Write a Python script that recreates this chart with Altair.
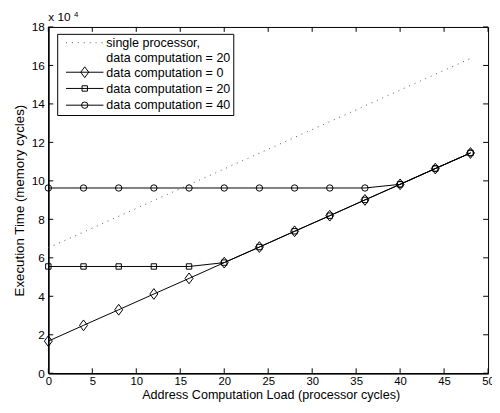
import altair as alt
import pandas as pd

# ---- data (execution time in units of 10^4 memory cycles) ----
x_vals = [0, 4, 8, 12, 16, 20, 24, 28, 32, 36, 40, 44, 48]
dc0 = [1.67, 2.49, 3.30, 4.12, 4.93, 5.75, 6.56, 7.38, 8.19, 9.01, 9.82, 10.64, 11.45]
dc20 = [5.55, 5.55, 5.55, 5.55, 5.55, 5.75, 6.56, 7.38, 8.19, 9.01, 9.82, 10.64, 11.45]
dc40 = [9.63, 9.63, 9.63, 9.63, 9.63, 9.63, 9.63, 9.63, 9.63, 9.63, 9.82, 10.64, 11.45]
single_x = [0, 48]
single_y = [6.52, 16.36]

x_ticks = [0, 5, 10, 15, 20, 25, 30, 35, 40, 45, 50]
y_ticks = [0, 2, 4, 6, 8, 10, 12, 14, 16, 18]

legend_labels = ["single processor,", "data computation = 20", "data computation = 0",
                 "data computation = 20", "data computation = 40"]

W, H = 447, 352
FONT = "Liberation Sans"
FS = 12
LFS = 12.7

xs = alt.Scale(domain=[0, 50], nice=False, zero=False)
ys = alt.Scale(domain=[0, 18], nice=False, zero=False)

x_axis = alt.Axis(values=x_ticks, grid=False, ticks=False, domain=True, domainColor="black",
                  domainWidth=1.5, labelFont=FONT, labelFontSize=11.5, labelColor="black",
                  labelPadding=2.5, title="Address Computation Load (processor cycles)",
                  titleFont=FONT, titleFontSize=12.8, titleFontWeight="normal", titleColor="black",
                  titleX=226, titleY=26, titleBaseline="alphabetic", labelFlush=False)
y_axis = alt.Axis(values=y_ticks, grid=False, ticks=False, domain=True, domainColor="black",
                  domainWidth=1.5, labelFont=FONT, labelFontSize=FS, labelColor="black",
                  labelPadding=4, title="Execution Time (memory cycles)",
                  titleFont=FONT, titleFontSize=13.5, titleFontWeight="normal", titleColor="black",
                  titleX=-25, titleY=H / 2, titleAngle=-90, titleBaseline="alphabetic",
                  labelFlush=False)


def X(f):
    return alt.X(f + ":Q", scale=xs, axis=x_axis)


def Y(f):
    return alt.Y(f + ":Q", scale=ys, axis=y_axis)


series = pd.DataFrame({"x": x_vals * 3,
                       "y": dc0 + dc20 + dc40,
                       "s": ["dc0"] * 13 + ["dc20"] * 13 + ["dc40"] * 13})
single = pd.DataFrame({"x": single_x, "y": single_y})

diamond = "M0,-1L0.74,0L0,1L-0.74,0Z"

layers = []

# dotted single processor line
layers.append(alt.Chart(single).mark_line(color="#555", strokeWidth=1, strokeDash=[1, 5]).encode(
    x=X("x"), y=Y("y")))

for key, shape, size in [("dc40", "circle", 42), ("dc20", "square", 30), ("dc0", diamond, 120)]:
    d = series[series.s == key]
    base = alt.Chart(d).encode(x=X("x"), y=Y("y"))
    layers.append(base.mark_line(color="black", strokeWidth=1))
    layers.append(base.mark_point(shape=shape, size=size, filled=False, color="black",
                                  strokeWidth=1, opacity=1))

# inward ticks
xt = pd.DataFrame({"t": x_ticks})
yt = pd.DataFrame({"t": y_ticks})
layers.append(alt.Chart(xt).mark_rule(color="black", strokeWidth=1).encode(
    x=X("t"), y=alt.value(H), y2=alt.value(H - 5)))
layers.append(alt.Chart(xt).mark_rule(color="black", strokeWidth=1).encode(
    x=X("t"), y=alt.value(0), y2=alt.value(5)))
layers.append(alt.Chart(yt).mark_rule(color="black", strokeWidth=1).encode(
    y=Y("t"), x=alt.value(0), x2=alt.value(5)))
layers.append(alt.Chart(yt).mark_rule(color="black", strokeWidth=1).encode(
    y=Y("t"), x=alt.value(W), x2=alt.value(W - 5)))

# exponent label
one = pd.DataFrame({"a": [0]})
layers.append(alt.Chart(one).mark_text(text="x 10", font=FONT, fontSize=FS, align="left",
                                       baseline="alphabetic", color="black").encode(
    x=alt.value(0), y=alt.value(-6)))
layers.append(alt.Chart(one).mark_text(text="4", font=FONT, fontSize=8, align="left",
                                       baseline="alphabetic", color="black").encode(
    x=alt.value(26), y=alt.value(-10)))

# legend
layers.append(alt.Chart(one).mark_rect(fill="white", stroke="black", strokeWidth=1).encode(
    x=alt.value(9.5), x2=alt.value(188.5), y=alt.value(7.5), y2=alt.value(90)))
rows = [16, 32, 46.5, 63, 79.5]
for lbl, ry in zip(legend_labels, rows):
    layers.append(alt.Chart(one).mark_text(text=lbl, font=FONT, fontSize=LFS, align="left",
                                           baseline="middle", color="black").encode(
        x=alt.value(59), y=alt.value(ry)))
layers.append(alt.Chart(one).mark_rule(color="#555", strokeWidth=1, strokeDash=[1, 5]).encode(
    x=alt.value(18), x2=alt.value(56), y=alt.value(16)))
for ry, shape, size in [(46, diamond, 120), (62.5, "square", 30), (79.5, "circle", 42)]:
    layers.append(alt.Chart(one).mark_rule(color="black", strokeWidth=1).encode(
        x=alt.value(18), x2=alt.value(56), y=alt.value(ry)))
    layers.append(alt.Chart(one).mark_point(shape=shape, size=size, filled=False, color="black",
                                            strokeWidth=1, opacity=1).encode(
        x=alt.value(37), y=alt.value(ry)))

chart = alt.layer(*layers).properties(
    width=W, height=H,
    autosize=alt.AutoSizeParams(type="none"),
    padding={"left": 41, "top": 16, "right": 4, "bottom": 29},
    background="white",
).configure_view(stroke="black", strokeWidth=1)

chart.save("out.html", embed_options={"renderer": "svg", "actions": False})
